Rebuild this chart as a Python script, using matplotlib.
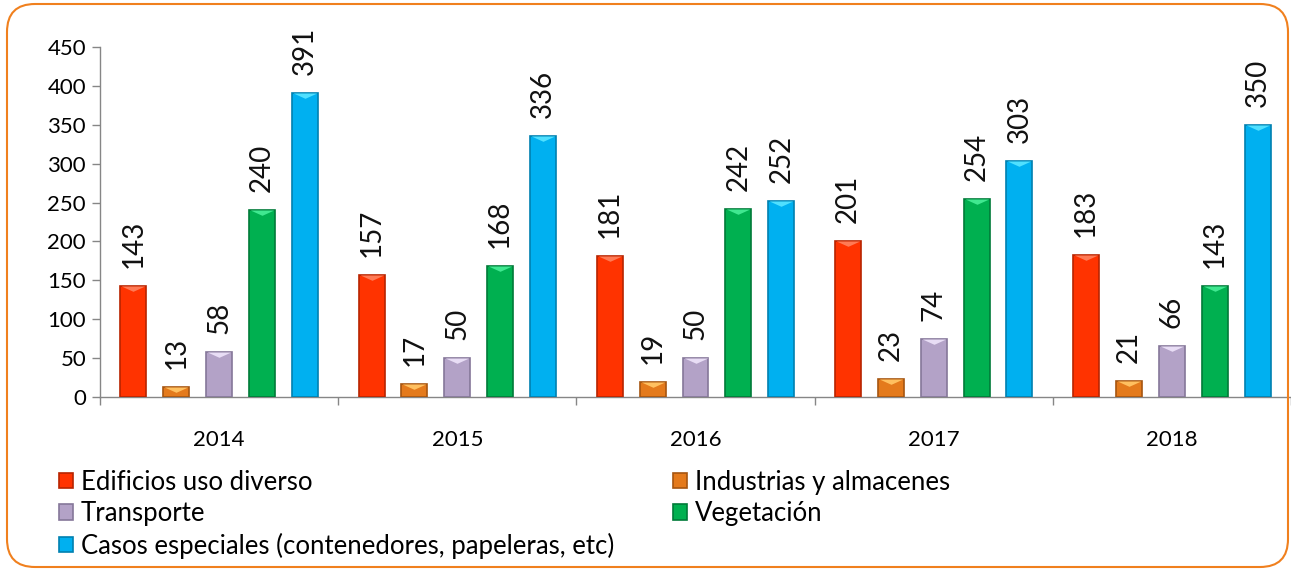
import numpy as np
import matplotlib.pyplot as plt
from matplotlib.patches import FancyBboxPatch
from matplotlib.path import Path

plt.rcParams['font.family'] = ['Lato', 'DejaVu Sans']

# datos
years = ['2014', '2015', '2016', '2017', '2018']
series_names = ['Edificios uso diverso', 'Industrias y almacenes', 'Transporte',
                'Vegetación', 'Casos especiales (contenedores, papeleras, etc)']
edificios = [143, 157, 181, 201, 183]
industrias = [13, 17, 19, 23, 21]
transporte = [58, 50, 50, 74, 66]
vegetacion = [240, 168, 242, 254, 143]
casos = [391, 336, 252, 303, 350]

face_colors = ['#FF3300', '#E47A1C', '#B3A2C7', '#00B050', '#00B0F0']
edge_colors = ['#B82400', '#A65510', '#857799', '#007A38', '#0080B0']
top_colors = ['#FF7A55', '#FFC060', '#E8DDF5', '#40E890', '#50E0FF']

fig = plt.figure(figsize=(12.91, 5.69), dpi=100)
ax = fig.add_axes([100 / 1291, 1 - 397 / 569, 1191 / 1291, 350 / 569])

# marcador triangular para el brillo superior de cada barra
tri = Path([(-1, 0), (1, 0), (0, -0.45), (-1, 0)],
           [Path.MOVETO, Path.LINETO, Path.LINETO, Path.CLOSEPOLY])

x = np.arange(len(years))
step = 0.18
width = 0.109
all_series = [edificios, industrias, transporte, vegetacion, casos]
handles = []
for j, vals in enumerate(all_series):
    pos = x + (j - 2) * step
    b = ax.bar(pos, vals, width=width, color=face_colors[j], edgecolor=edge_colors[j],
               linewidth=1.2, label=series_names[j], zorder=3)
    handles.append(b)
    ax.plot(pos, vals, linestyle='none', marker=tri, markersize=17,
            color=top_colors[j], markeredgewidth=0, zorder=4)
    for xi, v in zip(pos, vals):
        ax.annotate(str(v), (xi, v), xytext=(0, 13), textcoords='offset points',
                    rotation=90, ha='center', va='bottom', fontsize=20, color='#111111')

ax.set_xlim(-0.5, 4.5)
ax.set_ylim(0, 450)
ax.set_yticks(range(0, 451, 50))
ax.set_xticks(np.arange(-0.5, 5, 1))
ax.set_xticklabels([])
ax.set_xticks(x, minor=True)
ax.set_xticklabels(years, minor=True)
ax.tick_params(axis='x', which='major', length=6, color='#868686', width=1)
ax.tick_params(axis='x', which='minor', length=0, pad=24, labelsize=16)
ax.tick_params(axis='y', length=6, color='#868686', width=1, labelsize=16, pad=4)
for s in ['top', 'right']:
    ax.spines[s].set_visible(False)
for s in ['left', 'bottom']:
    ax.spines[s].set_color('#868686')
    ax.spines[s].set_linewidth(1)

# leyenda (orden por filas)
order = [0, 2, 4, 1, 3]
leg = fig.legend([handles[i] for i in order], [series_names[i] for i in order],
                 ncol=2, loc='upper left', bbox_to_anchor=(46 / 1291, 1 - 457 / 569),
                 frameon=False, fontsize=18.5, handlelength=0.55, handleheight=0.55,
                 handletextpad=0.3, labelspacing=0.25, columnspacing=2.3, borderpad=0)

# marco naranja redondeado
frame = FancyBboxPatch((7 / 1291, 2 / 569), 1281 / 1291, 563 / 569,
                       boxstyle='round,pad=0,rounding_size=%f' % (28 / 1291),
                       mutation_aspect=1291 / 569, transform=fig.transFigure,
                       facecolor='none', edgecolor='#F0801E', linewidth=1.5)
fig.patches.append(frame)

fig.savefig('out.png', dpi=100)
